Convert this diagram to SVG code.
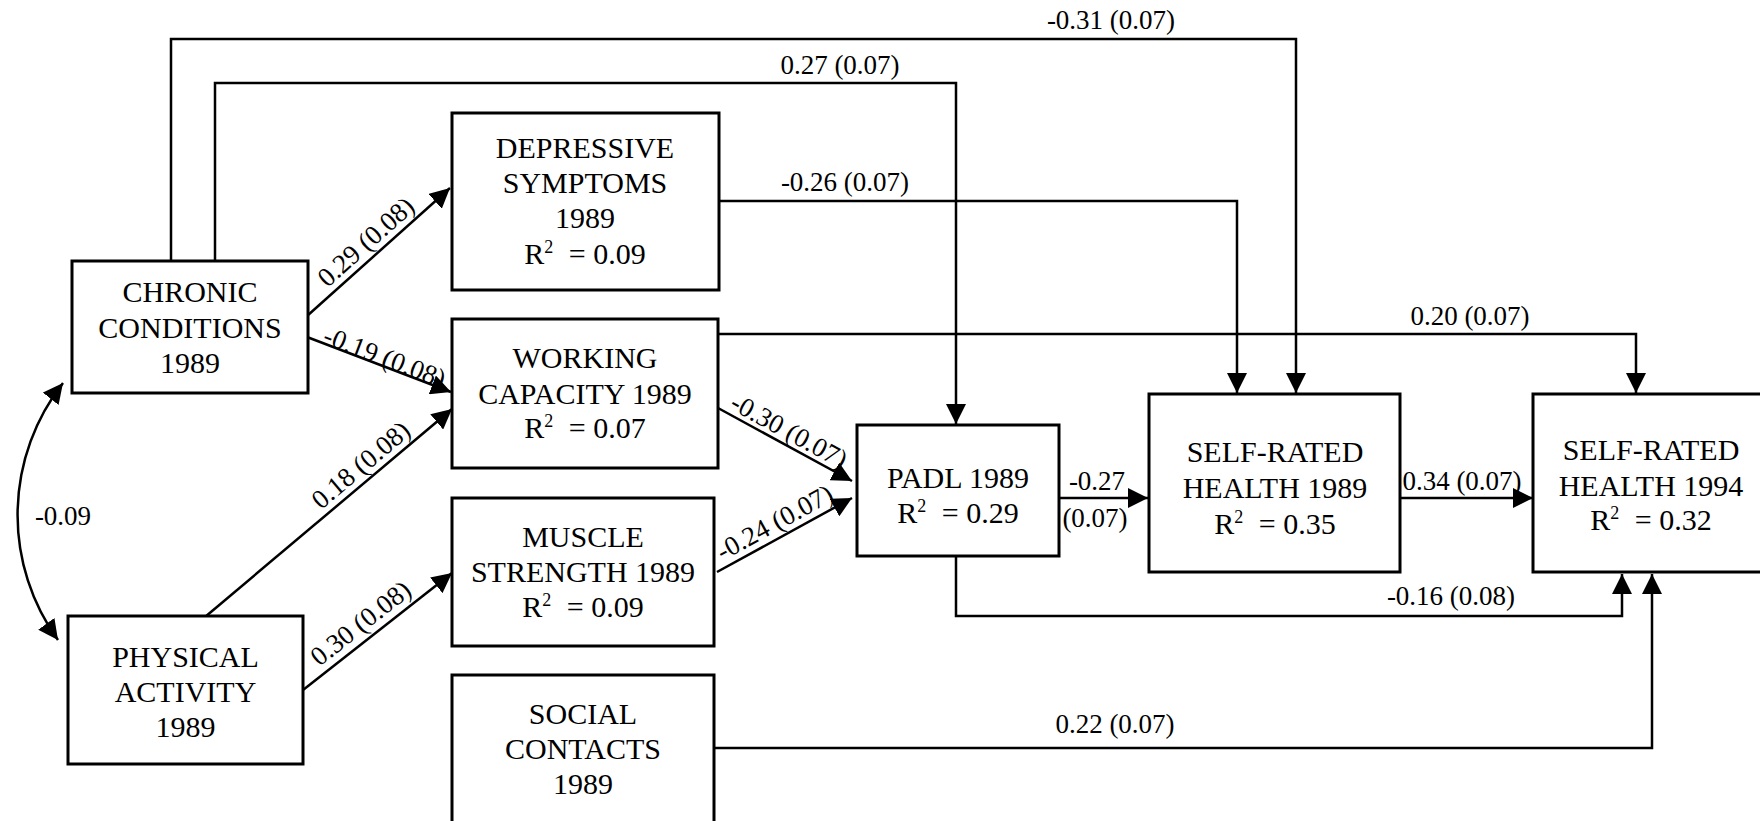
<svg xmlns="http://www.w3.org/2000/svg" width="1760" height="821" viewBox="0 0 1760 821">
<defs>
<marker id="ah" markerUnits="userSpaceOnUse" markerWidth="20" markerHeight="20" viewBox="0 0 20 20" refX="20" refY="10" orient="auto">
<path d="M0,0 L20,10 L0,20 z" fill="#000"/>
</marker>
<marker id="ah2" markerUnits="userSpaceOnUse" markerWidth="20" markerHeight="20" viewBox="0 0 20 20" refX="20" refY="10" orient="auto-start-reverse">
<path d="M0,0 L20,10 L0,20 z" fill="#000"/>
</marker>
</defs>
<rect width="1760" height="821" fill="#fff"/>

<g id="connectors">
<g fill="none" stroke="#000" stroke-width="2.5" marker-end="url(#ah)">
<polyline points="171,261 171,39 1296,39 1296,393"/>
<polyline points="215,261 215,83 956,83 956,424"/>
<polyline points="719,201 1237,201 1237,393"/>
<polyline points="718,334 1636,334 1636,393"/>
<line x1="307" y1="316" x2="450" y2="188"/>
<line x1="307" y1="337" x2="451" y2="392"/>
<line x1="205" y1="617" x2="452" y2="409"/>
<line x1="303" y1="690" x2="452" y2="573"/>
<line x1="718" y1="408" x2="852" y2="481"/>
<line x1="717" y1="572" x2="852" y2="498"/>
<line x1="1059" y1="498" x2="1148" y2="498"/>
<line x1="1400" y1="498" x2="1533" y2="498"/>
<polyline points="956,556 956,616 1622,616 1622,574"/>
<polyline points="714,748 1652,748 1652,574"/>
</g>
<path fill="none" stroke="#000" stroke-width="2.5" d="M63,383 A214,214 0 0 0 58,640" marker-start="url(#ah2)" marker-end="url(#ah2)"/>
<g font-family="Times New Roman, serif" font-size="27" text-anchor="middle">
<text x="1111" y="29">-0.31 (0.07)</text>
<text x="840" y="74">0.27 (0.07)</text>
<text x="845" y="191">-0.26 (0.07)</text>
<text x="1470" y="325">0.20 (0.07)</text>
<text x="1115" y="733">0.22 (0.07)</text>
<text x="1451" y="605">-0.16 (0.08)</text>
<text x="1462" y="490">0.34 (0.07)</text>
<text x="1097" y="490">-0.27</text>
<text x="1095" y="527">(0.07)</text>
<text x="63" y="525">-0.09</text>
<text transform="translate(376.5,253.8) rotate(-41.8)" x="0" y="-7">0.29 (0.08)</text>
<text transform="translate(381.4,365.5) rotate(20.9)" x="0" y="0">-0.19 (0.08)</text>
<text transform="translate(371.1,477.2) rotate(-40.1)" x="0" y="-7">0.18 (0.08)</text>
<text transform="translate(371.1,636.5) rotate(-38.1)" x="0" y="-8">0.30 (0.08)</text>
<text transform="translate(782.4,443) rotate(28.6)" x="0" y="-5">-0.30 (0.07)</text>
<text transform="translate(782.2,536.3) rotate(-28.7)" x="0" y="-7">-0.24 (0.07)</text>
</g>
</g>

<g font-family="Times New Roman, serif" font-size="30" text-anchor="middle">
<g id="chronic">
<rect fill="#fff" stroke="#000" stroke-width="3" x="72" y="261" width="236" height="132"/>
<text x="190" y="302">CHRONIC</text>
<text x="190" y="338">CONDITIONS</text>
<text x="190" y="373">1989</text>
</g>

<g id="physical">
<rect fill="#fff" stroke="#000" stroke-width="3" x="68" y="616" width="235" height="148"/>
<text x="185.5" y="667">PHYSICAL</text>
<text x="185.5" y="702">ACTIVITY</text>
<text x="185.5" y="737">1989</text>
</g>

<g id="depressive">
<rect fill="#fff" stroke="#000" stroke-width="3" x="452" y="113" width="267" height="177"/>
<text x="585" y="158">DEPRESSIVE</text>
<text x="585" y="193">SYMPTOMS</text>
<text x="585" y="228">1989</text>
<text x="585" y="264">R<tspan font-size="18" dy="-11">2</tspan><tspan dy="11" dx="8"> = 0.09</tspan></text>
</g>

<g id="working">
<rect fill="#fff" stroke="#000" stroke-width="3" x="452" y="319" width="266" height="149"/>
<text x="585" y="368">WORKING</text>
<text x="585" y="404">CAPACITY 1989</text>
<text x="585" y="438">R<tspan font-size="18" dy="-11">2</tspan><tspan dy="11" dx="8"> = 0.07</tspan></text>
</g>

<g id="muscle">
<rect fill="#fff" stroke="#000" stroke-width="3" x="452" y="498" width="262" height="148"/>
<text x="583" y="547">MUSCLE</text>
<text x="583" y="582">STRENGTH 1989</text>
<text x="583" y="617">R<tspan font-size="18" dy="-11">2</tspan><tspan dy="11" dx="8"> = 0.09</tspan></text>
</g>

<g id="social">
<rect fill="#fff" stroke="#000" stroke-width="3" x="452" y="675" width="262" height="160"/>
<text x="583" y="724">SOCIAL</text>
<text x="583" y="759">CONTACTS</text>
<text x="583" y="794">1989</text>
</g>

<g id="padl">
<rect fill="#fff" stroke="#000" stroke-width="3" x="857" y="425" width="202" height="131"/>
<text x="958" y="488">PADL 1989</text>
<text x="958" y="523">R<tspan font-size="18" dy="-11">2</tspan><tspan dy="11" dx="8"> = 0.29</tspan></text>
</g>

<g id="srh1989">
<rect fill="#fff" stroke="#000" stroke-width="3" x="1149" y="394" width="251" height="178"/>
<text x="1275" y="462">SELF-RATED</text>
<text x="1275" y="498">HEALTH 1989</text>
<text x="1275" y="534">R<tspan font-size="18" dy="-11">2</tspan><tspan dy="11" dx="8"> = 0.35</tspan></text>
</g>

<g id="srh1994">
<rect fill="#fff" stroke="#000" stroke-width="3" x="1533" y="394" width="250" height="178"/>
<text x="1651" y="460">SELF-RATED</text>
<text x="1651" y="496">HEALTH 1994</text>
<text x="1651" y="530">R<tspan font-size="18" dy="-11">2</tspan><tspan dy="11" dx="8"> = 0.32</tspan></text>
</g>
</g>
</svg>
